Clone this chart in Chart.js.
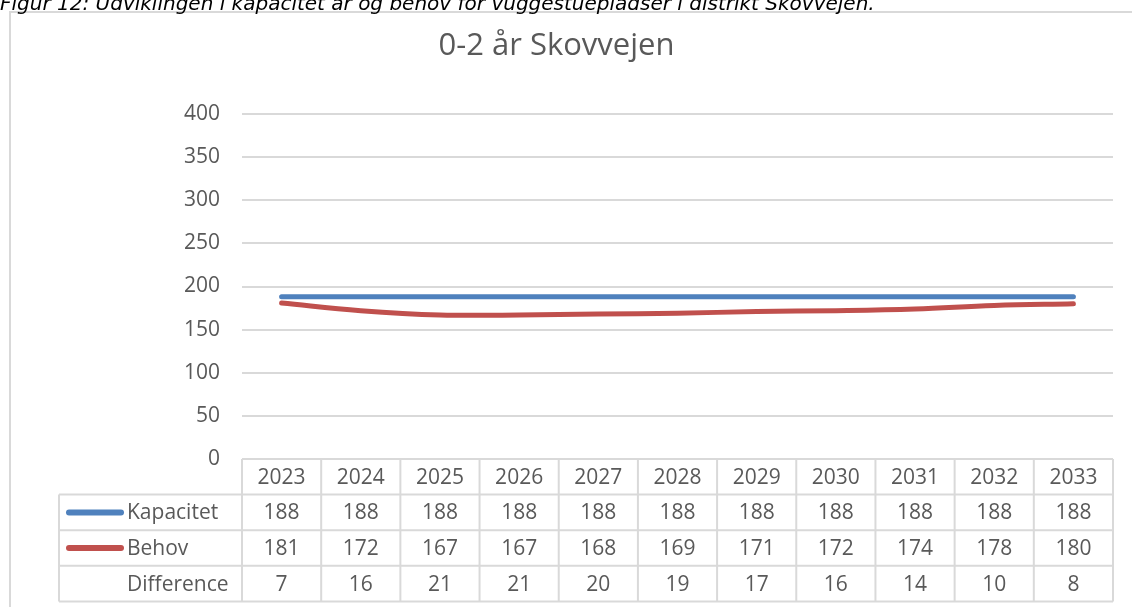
<!DOCTYPE html>
<html>
<head>
<meta charset="utf-8">
<script src="https://cdn.jsdelivr.net/npm/chart.js@4"></script>
<style>
  html, body { margin: 0; padding: 0; background: #fff; overflow: hidden; }
  canvas { display: block; }
</style>
</head>
<body>
<canvas id="chart" width="1132" height="607"></canvas>
<script>
const years = ['2023', '2024', '2025', '2026', '2027', '2028', '2029', '2030', '2031', '2032', '2033'];
const kapacitet = [188, 188, 188, 188, 188, 188, 188, 188, 188, 188, 188];
const behov = [181, 172, 167, 167, 168, 169, 171, 172, 174, 178, 180];
const difference = [7, 16, 21, 21, 20, 19, 17, 16, 14, 10, 8];
const yTicks = [0, 50, 100, 150, 200, 250, 300, 350, 400];

const caption = 'Figur 12: Udviklingen i kapacitet år og behov for vuggestuepladser i distrikt Skovvejen.';
const textColor = '#595959';
const gridColor = '#D9D9D9';
const blue = '#4F81BD';
const red = '#C0504D';
const font = '"Open Sans", sans-serif';

const rowH = 35.6;
const tableLeft = 59;

const frame = {
  id: 'frame',
  beforeDraw(chart) {
    const c = chart.ctx;
    c.save();
    c.fillStyle = '#fff';
    c.fillRect(0, 0, chart.width, chart.height);
    c.strokeStyle = gridColor;
    c.lineWidth = 2;
    c.strokeRect(10, 12, 1140, 620);
    c.fillStyle = '#000';
    c.font = 'italic 20px "DejaVu Sans", sans-serif';
    c.textBaseline = 'alphabetic';
    c.fillText(caption, 0, 10);
    c.restore();
  }
};

const dataTable = {
  id: 'dataTable',
  afterDraw(chart) {
    const c = chart.ctx;
    const x = chart.scales.x;
    const area = chart.chartArea;
    const top = area.bottom;
    const colW = x.getPixelForValue(1) - x.getPixelForValue(0);
    const left = area.left;
    const right = area.right;
    c.save();
    c.strokeStyle = gridColor;
    c.lineWidth = 2;
    c.beginPath();
    for (let k = 1; k <= 4; k++) {
      const y = top + k * rowH;
      c.moveTo(tableLeft, y);
      c.lineTo(right, y);
    }
    for (let i = 0; i <= years.length; i++) {
      const px = left + i * colW;
      c.moveTo(px, top);
      c.lineTo(px, top + 4 * rowH);
    }
    c.moveTo(tableLeft, top + rowH);
    c.lineTo(tableLeft, top + 4 * rowH);
    c.stroke();

    c.fillStyle = textColor;
    c.font = '21px ' + font;
    c.textBaseline = 'middle';
    c.textAlign = 'center';
    const rows = [years, kapacitet, behov, difference];
    rows.forEach((row, r) => {
      const cy = top + r * rowH + rowH / 2 + 1;
      row.forEach((v, i) => c.fillText(String(v), x.getPixelForValue(i), cy));
    });

    const labels = [['Kapacitet', blue], ['Behov', red], ['Difference', null]];
    c.textAlign = 'left';
    labels.forEach(([name, col], r) => {
      const cy = top + (r + 1) * rowH + rowH / 2;
      if (col) {
        c.strokeStyle = col;
        c.lineWidth = 6;
        c.lineCap = 'round';
        c.beginPath();
        c.moveTo(69, cy);
        c.lineTo(121, cy);
        c.stroke();
      }
      c.fillStyle = textColor;
      c.fillText(name, 127, cy + 1);
    });
    c.restore();
  }
};

new Chart(document.getElementById('chart'), {
  type: 'line',
  data: {
    labels: years,
    datasets: [
      { label: 'Kapacitet', data: kapacitet, borderColor: blue, backgroundColor: blue, borderWidth: 5, pointRadius: 0, tension: 0.4, borderCapStyle: 'round' },
      { label: 'Behov', data: behov, borderColor: red, backgroundColor: red, borderWidth: 5, pointRadius: 0, tension: 0.4, borderCapStyle: 'round' }
    ]
  },
  options: {
    responsive: false,
    animation: false,
    layout: { padding: { top: 0, left: 0, right: 19, bottom: 148 } },
    plugins: {
      legend: { display: false },
      tooltip: { enabled: false },
      title: {
        display: true,
        text: '0-2 år Skovvejen',
        color: textColor,
        font: { family: font, size: 31, weight: 'normal', lineHeight: 1.2 },
        padding: { top: 28, bottom: 48.8 }
      }
    },
    scales: {
      x: {
        type: 'category',
        offset: true,
        display: false
      },
      y: {
        min: 0,
        max: 400,
        afterBuildTicks(scale) { scale.ticks = yTicks.map(v => ({ value: v })); },
        afterFit(scale) { scale.width = 242; },
        border: { display: false },
        grid: { color: gridColor, lineWidth: 2, drawTicks: false },
        ticks: { color: textColor, padding: 22, font: { family: font, size: 21 } }
      }
    }
  },
  plugins: [frame, dataTable]
});
</script>
</body>
</html>
